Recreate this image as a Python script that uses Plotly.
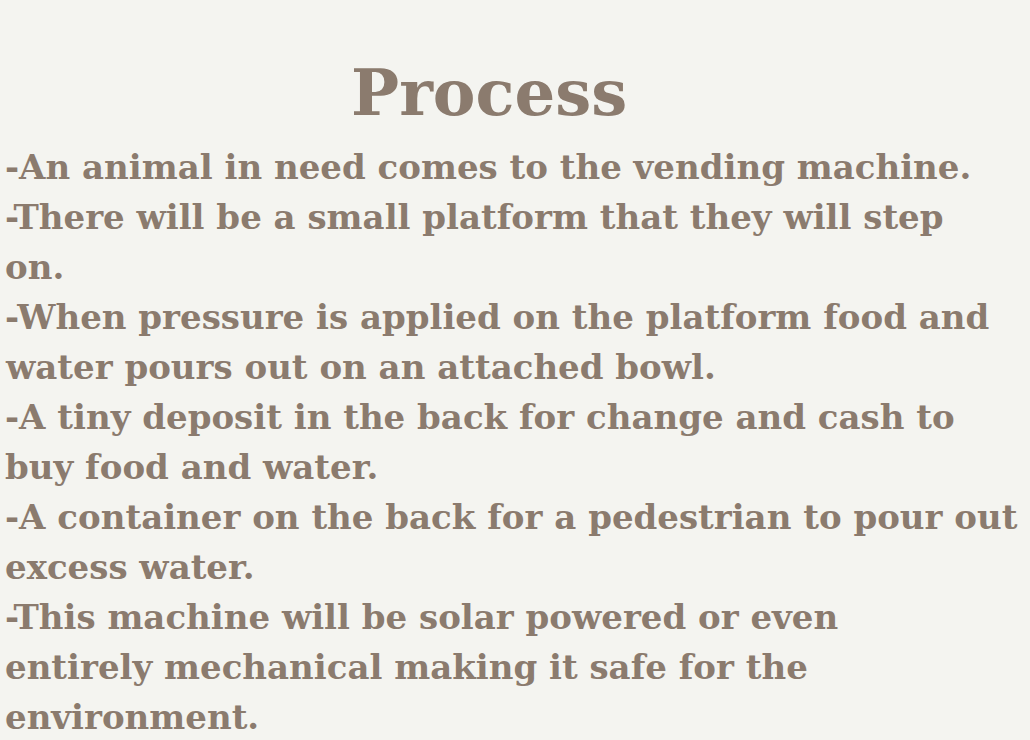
import plotly.graph_objects as go

# slide text
title = "Process"
lines = [
    "-An animal in need comes to the vending machine.",
    "-There will be a small platform that they will step",
    "on.",
    "-When pressure is applied on the platform food and",
    "water pours out on an attached bowl.",
    "-A tiny deposit in the back for change and cash to",
    "buy food and water.",
    "-A container on the back for a pedestrian to pour out",
    "excess water.",
    "-This machine will be solar powered or even",
    "entirely mechanical making it safe for the",
    "environment.",
]

W, H = 1030, 740
txt_color = "#8b7b6e"
bg = "#f4f4f0"
font_name = "DejaVu Serif"

fig = go.Figure()

fig.add_annotation(
    text="<b>" + title + "</b>", x=489 / W, y=1 - 92 / H,
    xref="paper", yref="paper", xanchor="center", yanchor="middle",
    showarrow=False, font=dict(family=font_name, size=64, color=txt_color),
)

for i, line in enumerate(lines):
    yc = 167 + 50 * i
    fig.add_annotation(
        text="<b>" + line + "</b>", x=3 / W, y=1 - yc / H,
        xref="paper", yref="paper", xanchor="left", yanchor="middle",
        showarrow=False, font=dict(family=font_name, size=34, color=txt_color),
    )

fig.update_xaxes(visible=False)
fig.update_yaxes(visible=False)
fig.update_layout(
    width=W, height=H,
    margin=dict(l=0, r=0, t=0, b=0),
    paper_bgcolor=bg, plot_bgcolor=bg,
)

# drop the default page margin so the slide fills the window
fig.write_html(
    "out.html",
    config={"displayModeBar": False},
    post_script="document.body.style.margin='0';document.body.style.overflow='hidden';"
                "document.body.style.background='" + bg + "';",
)
